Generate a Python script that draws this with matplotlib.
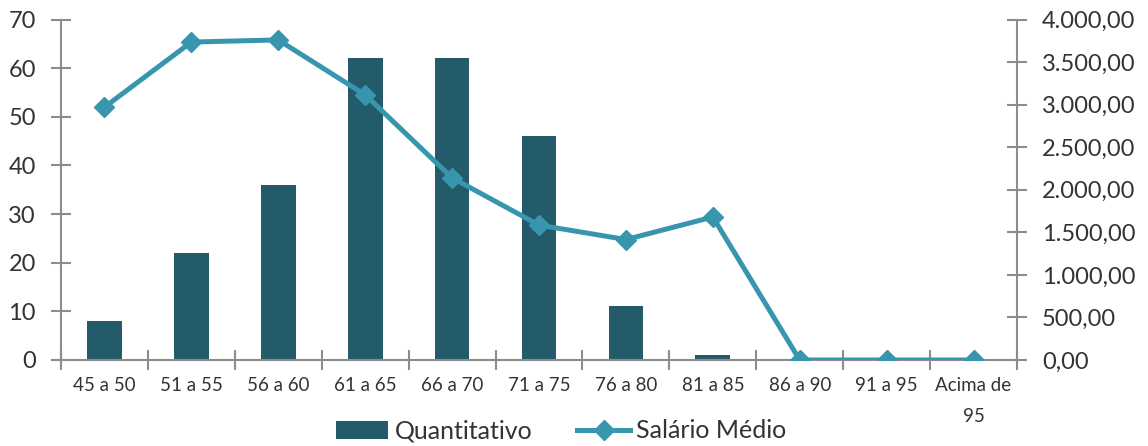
import matplotlib
matplotlib.use("Agg")
import matplotlib.pyplot as plt
from matplotlib.ticker import FuncFormatter
import numpy as np

categories = ["45 a 50", "51 a 55", "56 a 60", "61 a 65", "66 a 70", "71 a 75",
              "76 a 80", "81 a 85", "86 a 90", "91 a 95", "Acima de\n95"]
quantitativo = [8, 22, 36, 62, 62, 46, 11, 1, 0, 0, 0]
salario_medio = [2970, 3735, 3760, 3115, 2140, 1585, 1415, 1680, 0, 0, 0]

bar_color = "#235B6A"
line_color = "#3796AE"
axis_color = "#8C8C8C"
text_color = "#333333"

plt.rcParams['font.family'] = ['Lato', 'DejaVu Sans']

fig = plt.figure(figsize=(11.48, 4.46), dpi=100)
ax = fig.add_axes([61/1148, 86/446, (1017-61)/1148, (360-19.5)/446])
x = np.arange(len(categories))
bars = ax.bar(x, quantitativo, width=0.4, color=bar_color, label="Quantitativo", zorder=2)
ax.set_xlim(-0.5, len(categories) - 0.5)
ax.set_ylim(0, 70)
ax.set_yticks(range(0, 71, 10))

ax2 = ax.twinx()
ln, = ax2.plot(x, salario_medio, color=line_color, lw=3.6, marker="D", markersize=10,
               label="Salário Médio", zorder=3)
ax2.set_ylim(0, 4000)
ax2.set_yticks(range(0, 4001, 500))

def br(v, pos):
    s = f"{v:,.2f}"
    return s.replace(",", "X").replace(".", ",").replace("X", ".")
ax2.yaxis.set_major_formatter(FuncFormatter(br))

for a in (ax, ax2):
    for s in a.spines.values():
        s.set_visible(False)

ax.spines['left'].set_visible(True)
ax.spines['bottom'].set_visible(True)
ax2.spines['right'].set_visible(True)
for s in (ax.spines['left'], ax.spines['bottom'], ax2.spines['right']):
    s.set_color(axis_color)
    s.set_linewidth(1.5)

ax.set_xticks(x)
ax.set_xticklabels(categories, fontsize=13.5, color=text_color, linespacing=2.0)
ax.tick_params(axis='x', which='major', length=0, pad=12)
ax.set_xticks(np.arange(-0.5, len(categories) + 0.5, 1), minor=True)
ax.tick_params(axis='x', which='minor', direction='inout', length=14, width=1.5, color=axis_color)
ax.tick_params(axis='y', direction='inout', length=14, width=1.5, color=axis_color,
               labelsize=17, labelcolor=text_color, pad=11)
ax2.tick_params(axis='y', direction='inout', length=14, width=1.5, color=axis_color,
                labelsize=17, labelcolor=text_color, pad=11)

fig.legend(handles=[bars, ln], labels=["Quantitativo", "Salário Médio"],
           loc="center", bbox_to_anchor=(561/1148, 1 - 431/446), ncol=2,
           frameon=False, fontsize=18, handlelength=2.1, handletextpad=0.25,
           columnspacing=1.8, labelcolor=text_color)

fig.savefig("out.png", dpi=100)
